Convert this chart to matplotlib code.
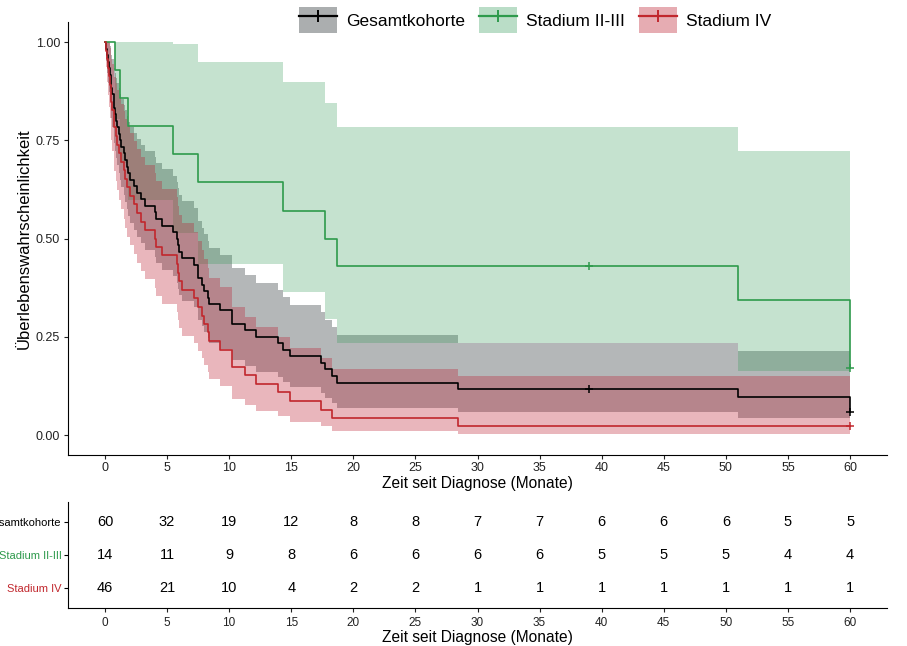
import matplotlib
matplotlib.use("Agg")
import matplotlib.pyplot as plt
from matplotlib.patches import Patch
from matplotlib.lines import Line2D

plt.rcParams['font.family'] = ['Liberation Sans', 'DejaVu Sans']

# Kaplan-Meier Stufen: Zeit, Überleben, untere / obere Grenze
ges_t = [0, 0.1, 0.2, 0.25, 0.3, 0.4, 0.45, 0.5, 0.6, 0.7, 0.75, 0.8, 0.9, 1.0, 1.1, 1.2, 1.3, 1.5,
         1.65, 1.8, 1.85, 2.0, 2.3, 2.6, 2.9, 3.2, 4.0, 4.1, 4.56, 5.5, 5.82, 5.9, 6.0, 6.2, 7.2, 7.5,
         7.8, 8.0, 8.3, 8.4, 9.26, 10.2, 11.3, 12.2, 13.9, 14.3, 14.9, 17.4, 17.7, 18.3, 18.7, 28.4, 51, 60]
ges_s = [1.0, 0.983, 0.967, 0.950, 0.933, 0.917, 0.900, 0.883, 0.867, 0.850, 0.833, 0.817, 0.800, 0.783,
         0.767, 0.750, 0.733, 0.717, 0.700, 0.683, 0.667, 0.650, 0.633, 0.617, 0.600, 0.583, 0.567, 0.550,
         0.533, 0.517, 0.500, 0.483, 0.467, 0.450, 0.433, 0.400, 0.383, 0.367, 0.350, 0.333, 0.317, 0.283,
         0.267, 0.250, 0.233, 0.217, 0.200, 0.183, 0.167, 0.150, 0.133, 0.117, 0.097, 0.058]
ges_lo = [1.0, 0.952, 0.922, 0.896, 0.872, 0.849, 0.827, 0.806, 0.785, 0.764, 0.744, 0.724, 0.705, 0.686,
          0.667, 0.648, 0.630, 0.611, 0.593, 0.575, 0.558, 0.540, 0.522, 0.505, 0.488, 0.471, 0.454, 0.438,
          0.421, 0.405, 0.388, 0.372, 0.356, 0.340, 0.325, 0.293, 0.278, 0.263, 0.248, 0.233, 0.218, 0.190,
          0.175, 0.161, 0.148, 0.134, 0.121, 0.108, 0.095, 0.082, 0.070, 0.058, 0.044, 0.044]
ges_up = [1.0, 1.0, 1.0, 1.0, 0.999, 0.989, 0.979, 0.968, 0.957, 0.945, 0.933, 0.921, 0.908, 0.895,
          0.882, 0.868, 0.854, 0.840, 0.826, 0.812, 0.797, 0.783, 0.768, 0.753, 0.738, 0.722, 0.707, 0.692,
          0.676, 0.660, 0.644, 0.628, 0.612, 0.595, 0.579, 0.545, 0.528, 0.511, 0.494, 0.477, 0.459, 0.424,
          0.406, 0.388, 0.369, 0.351, 0.332, 0.313, 0.294, 0.274, 0.254, 0.234, 0.213, 0.213]

st23_t = [0, 0.8, 1.2, 1.85, 5.5, 7.5, 14.3, 17.7, 18.7, 51, 60]
st23_s = [1.0, 0.929, 0.857, 0.786, 0.714, 0.643, 0.571, 0.500, 0.429, 0.343, 0.171]
st23_lo = [1.0, 0.803, 0.692, 0.598, 0.513, 0.435, 0.363, 0.296, 0.234, 0.162, 0.162]
st23_up = [1.0, 1.0, 1.0, 1.0, 0.995, 0.950, 0.899, 0.844, 0.785, 0.724, 0.724]

st4_t = [0, 0.1, 0.2, 0.25, 0.3, 0.4, 0.45, 0.5, 0.6, 0.7, 0.75, 0.9, 1.0, 1.1, 1.3, 1.5, 1.65, 1.8,
         2.0, 2.3, 2.6, 2.9, 3.2, 4.0, 4.1, 4.56, 5.82, 5.9, 6.0, 6.2, 7.2, 7.5, 7.8, 8.0, 8.3, 8.4,
         9.26, 10.2, 11.3, 12.2, 13.9, 14.9, 17.4, 18.3, 28.4, 60]
st4_s = [1.0, 0.978, 0.957, 0.935, 0.913, 0.891, 0.870, 0.848, 0.826, 0.804, 0.783, 0.761, 0.739, 0.717,
         0.696, 0.674, 0.652, 0.630, 0.609, 0.587, 0.565, 0.543, 0.522, 0.500, 0.478, 0.457, 0.435, 0.413,
         0.391, 0.370, 0.348, 0.326, 0.304, 0.283, 0.261, 0.239, 0.217, 0.174, 0.152, 0.130, 0.109, 0.087,
         0.065, 0.043, 0.022, 0.022]
st4_lo = [1.0, 0.937, 0.899, 0.866, 0.835, 0.806, 0.778, 0.750, 0.724, 0.698, 0.672, 0.647, 0.623, 0.598,
          0.575, 0.551, 0.528, 0.505, 0.483, 0.461, 0.439, 0.417, 0.396, 0.375, 0.354, 0.333, 0.313, 0.293,
          0.273, 0.253, 0.234, 0.215, 0.197, 0.178, 0.160, 0.143, 0.126, 0.093, 0.077, 0.062, 0.048, 0.034,
          0.022, 0.011, 0.003, 0.003]
st4_up = [1.0, 1.0, 1.0, 1.0, 0.998, 0.986, 0.973, 0.958, 0.943, 0.928, 0.911, 0.895, 0.878, 0.860,
          0.842, 0.824, 0.805, 0.787, 0.768, 0.748, 0.728, 0.708, 0.688, 0.668, 0.647, 0.626, 0.605, 0.583,
          0.561, 0.539, 0.517, 0.494, 0.471, 0.448, 0.424, 0.400, 0.376, 0.327, 0.301, 0.275, 0.249, 0.222,
          0.195, 0.169, 0.151, 0.151]

# zensierte Beobachtungen
ges_cens_t = [39, 60]
ges_cens_s = [0.117, 0.058]
st23_cens_t = [39, 60]
st23_cens_s = [0.429, 0.171]
st4_cens_t = [60]
st4_cens_s = [0.022]

# Risikotabelle
risk_t = [0, 5, 10, 15, 20, 25, 30, 35, 40, 45, 50, 55, 60]
risk_ges = [60, 32, 19, 12, 8, 8, 7, 7, 6, 6, 6, 5, 5]
risk_st23 = [14, 11, 9, 8, 6, 6, 6, 6, 5, 5, 5, 4, 4]
risk_st4 = [46, 21, 10, 4, 2, 2, 1, 1, 1, 1, 1, 1, 1]

names = ["Gesamtkohorte", "Stadium II-III", "Stadium IV"]
line_cols = ["#000000", "#2e9a4c", "#c1272d"]
fill_cols = ["#454c4f", "#2f9a55", "#bd1e30"]
fill_alpha = [0.40, 0.28, 0.32]

W, H = 907, 646
fig = plt.figure(figsize=(W / 100, H / 100), dpi=100)

x0, x1 = 67.7, 887.3
ax = fig.add_axes([x0 / W, 1 - 454.7 / H, (x1 - x0) / W, (454.7 - 22.4) / H])

curves = [(ges_t, ges_s, ges_lo, ges_up, ges_cens_t, ges_cens_s),
          (st23_t, st23_s, st23_lo, st23_up, st23_cens_t, st23_cens_s),
          (st4_t, st4_s, st4_lo, st4_up, st4_cens_t, st4_cens_s)]

for i, (t, s, lo, up, ct, cs) in enumerate(curves):
    ax.fill_between(t, lo, up, step='post', color=fill_cols[i], alpha=fill_alpha[i], lw=0)
for i, (t, s, lo, up, ct, cs) in enumerate(curves):
    ax.step(t, s, where='post', color=line_cols[i], lw=1.2)
    ax.plot(ct, cs, ls='none', marker='+', ms=6, mew=1.1, color=line_cols[i])

ax.set_xlim(-3, 63)
ax.set_ylim(-0.05, 1.05)
ax.set_xticks(risk_t)
ax.set_yticks([0, 0.25, 0.5, 0.75, 1.0])
ax.set_yticklabels(["0.00", "0.25", "0.50", "0.75", "1.00"])
ax.tick_params(labelsize=9, length=3, pad=2.5, colors='#222222', labelcolor='#222222')
for sp in ['top', 'right']:
    ax.spines[sp].set_visible(False)
ax.set_xlabel("Zeit seit Diagnose (Monate)", fontsize=11.2, labelpad=1)
ax.set_ylabel("Überlebenswahrscheinlichkeit", fontsize=12, labelpad=3)

handles = []
for i in range(3):
    handles.append((Patch(facecolor=fill_cols[i], alpha=fill_alpha[i] + 0.05, edgecolor='none'),
                    Line2D([0], [0], color=line_cols[i], lw=1.6, marker='|', ms=9, mew=1.4)))
fig.legend(handles, names, loc='center', bbox_to_anchor=(535 / W, 1 - 20 / H), ncol=3,
           frameon=False, fontsize=12.5, handlelength=2.2, handleheight=1.9,
           columnspacing=0.8, handletextpad=0.5)

# Tabelle der Patienten unter Risiko
tb = fig.add_axes([x0 / W, 1 - 608 / H, (x1 - x0) / W, 106 / H])
tb.set_xlim(-3, 63)
tb.set_ylim(0.4, 3.6)
rows = [risk_ges, risk_st23, risk_st4]
row_y = [3, 2, 1]
for r, yv in zip(rows, row_y):
    for t, n in zip(risk_t, r):
        tb.text(t, yv, str(n), ha='center', va='center', fontsize=10.5)
tb.set_xticks(risk_t)
tb.set_yticks(row_y)
tb.set_yticklabels(names)
for lab, c in zip(tb.get_yticklabels(), line_cols):
    lab.set_color(c)
tb.tick_params(axis='y', labelsize=8, length=3, pad=1.5)
tb.tick_params(axis='x', labelsize=8.5, length=3, colors='#222222', labelcolor='#222222')
for sp in ['top', 'right']:
    tb.spines[sp].set_visible(False)
tb.set_xlabel("Zeit seit Diagnose (Monate)", fontsize=11.2, labelpad=1)

fig.savefig("out.png", dpi=100)
